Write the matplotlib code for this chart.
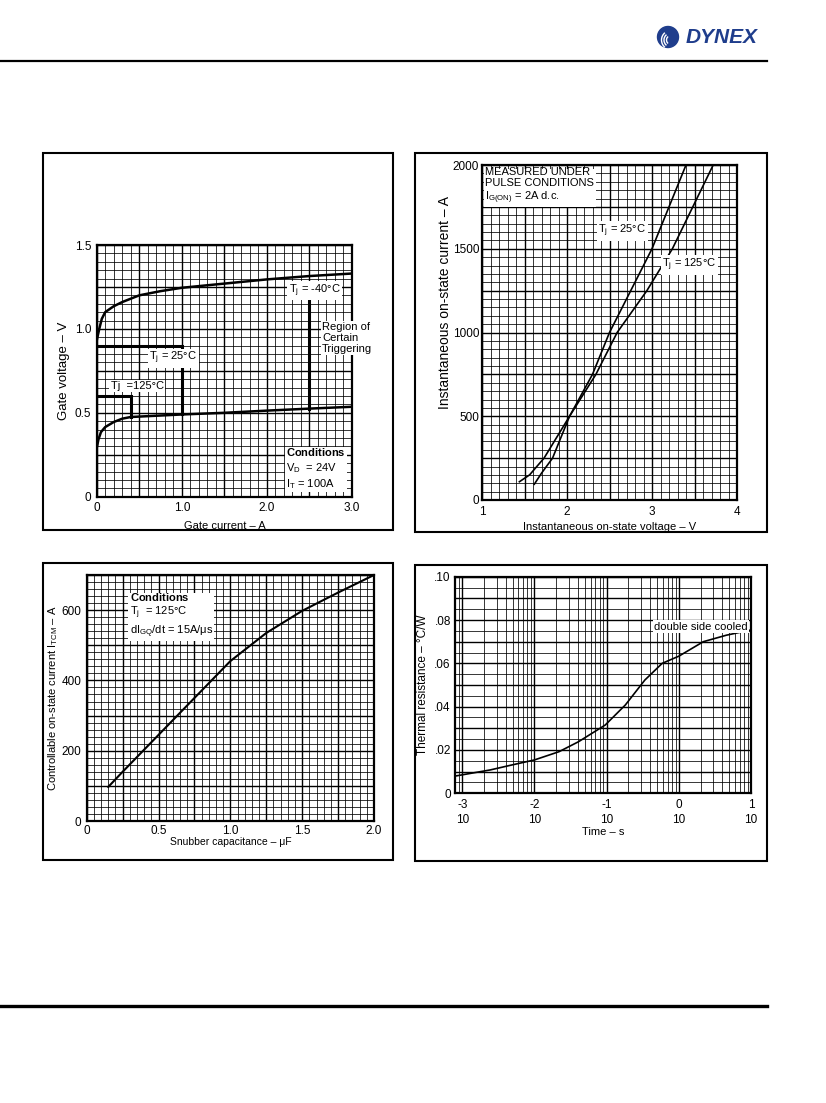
import numpy as np
import matplotlib
matplotlib.use("Agg")
import matplotlib.pyplot as plt
from matplotlib.ticker import MultipleLocator, LogLocator, NullFormatter, FixedLocator
from matplotlib.patches import Rectangle, Circle, Arc

plt.rcParams['font.family'] = ['Liberation Sans', 'DejaVu Sans']
plt.rcParams['mathtext.fontset'] = 'custom'
plt.rcParams['mathtext.rm'] = 'Liberation Sans'
plt.rcParams['mathtext.it'] = 'Liberation Sans:italic'
plt.rcParams['mathtext.bf'] = 'Liberation Sans:bold'

# ---------------- data ----------------
# Gate characteristics
gate_ig_upper = [0.0, 0.03, 0.06, 0.1, 0.2, 0.3, 0.5, 0.75, 1.0, 1.5, 2.0, 2.5, 3.0]
gate_vg_upper = [0.93, 1.0, 1.06, 1.10, 1.135, 1.16, 1.20, 1.225, 1.245, 1.27, 1.295, 1.315, 1.33]
gate_ig_lower = [0.0, 0.02, 0.05, 0.1, 0.2, 0.3, 0.4, 0.6, 1.0, 1.5, 2.0, 2.5, 3.0]
gate_vg_lower = [0.29, 0.34, 0.385, 0.415, 0.445, 0.465, 0.475, 0.48, 0.49, 0.50, 0.513, 0.525, 0.536]
# region boundaries (corner points)
region_25_x = [0.0, 1.0, 1.0]
region_25_y = [0.9, 0.9, 0.49]
region_125_x = [0.0, 0.4, 0.4]
region_125_y = [0.6, 0.6, 0.475]
region_m40_x = [2.4, 2.5, 2.5]
region_m40_y = [1.2, 1.2, 0.52]

# On-state characteristics
vt_25 = [1.615, 1.7, 1.83, 2.03, 2.30, 2.50, 2.75, 3.0, 3.2, 3.40]
it_25 = [94, 160, 250, 500, 750, 1000, 1250, 1500, 1750, 2000]
vt_125 = [1.44, 1.56, 1.73, 2.03, 2.34, 2.59, 2.94, 3.24, 3.48, 3.72]
it_125 = [109, 150, 250, 500, 750, 1000, 1250, 1500, 1750, 2000]

# Controllable on-state current vs snubber capacitance
snub_c = [0.15, 0.25, 0.5, 0.75, 1.0, 1.25, 1.5, 1.75, 2.0]
snub_i = [97, 140, 245, 350, 455, 535, 598, 650, 700]

# Transient thermal impedance
th_logt = [-3.09, -2.61, -2.31, -2.0, -1.66, -1.39, -1.02, -0.74, -0.47, -0.23, 0.0, 0.34, 0.66, 1.0]
th_z = [0.008, 0.0108, 0.0131, 0.0154, 0.0192, 0.0238, 0.0315, 0.0408, 0.0523, 0.060, 0.0633, 0.070, 0.073, 0.0754]

# ---------------- figure ----------------
W, H = 826, 1103
fig = plt.figure(figsize=(W / 100, H / 100), dpi=100)

def rect(l, r, t, b):
    return [l / W, 1 - b / H, (r - l) / W, (b - t) / H]

FS = 8.0
TFS = 8.5
WB = dict(facecolor='white', edgecolor='none', pad=1.0)

def style(ax):
    ax.tick_params(which='both', length=0, labelsize=TFS, pad=4)
    for s in ax.spines.values():
        s.set_linewidth(1.6)
        s.set_color('black')
    ax.grid(which='major', color='black', lw=1.0)
    ax.grid(which='minor', color='black', lw=0.55)
    ax.set_axisbelow(True)

# overlay for frames, header, footer
ov = fig.add_axes([0, 0, 1, 1])
ov.set_xlim(0, W)
ov.set_ylim(H, 0)
ov.axis('off')
for (l, t, r, b) in [(42.7, 152.7, 392.7, 530), (414.7, 152.7, 767, 532),
                     (42.7, 562.7, 392.7, 860), (414.7, 565, 767, 861)]:
    ov.add_patch(Rectangle((l, t), r - l, b - t, fill=False, lw=1.5, ec='black'))
ov.plot([0, 767], [60.7, 60.7], color='black', lw=1.6)
ov.plot([0, 767], [1006, 1006], color='black', lw=2.4)
navy = '#1f3d8c'
ov.add_patch(Circle((668, 37), 10.5, color=navy))
for rr in (4.5, 7.0, 9.5):
    ov.add_patch(Arc((671, 40), 2 * rr, 2 * rr, theta1=130, theta2=230, color='white', lw=1.0))
ov.text(722, 37.5, 'DYNEX', color=navy, fontsize=15, fontweight='heavy',
        fontstyle='italic', ha='center', va='center')

# ---- 1. Gate characteristics ----
ax1 = fig.add_axes(rect(96.7, 352, 245, 496.7))
ax1.set_xlim(0, 3.0)
ax1.set_ylim(0, 1.5)
ax1.xaxis.set_minor_locator(MultipleLocator(0.1))
ax1.yaxis.set_minor_locator(MultipleLocator(0.05))
style(ax1)
ax1.set_xticks(np.arange(0, 3.01, 0.5))
ax1.set_xticklabels(['0', '', '1.0', '', '2.0', '', '3.0'])
ax1.set_yticks(np.arange(0, 1.51, 0.25))
ax1.set_yticklabels(['0', '', '0.5', '', '1.0', '', '1.5'])
ax1.plot(gate_ig_upper, gate_vg_upper, color='black', lw=1.8)
ax1.plot(gate_ig_lower, gate_vg_lower, color='black', lw=1.8)
ax1.plot(region_25_x, region_25_y, color='black', lw=2.2, solid_joinstyle='miter')
ax1.plot(region_125_x, region_125_y, color='black', lw=2.2, solid_joinstyle='miter')
ax1.plot(region_m40_x, region_m40_y, color='black', lw=2.2, solid_joinstyle='miter')
ax1.text(2.56, 1.23, 'T$_\\mathrm{j}$ = -40°C', fontsize=FS, ha='center', va='center', bbox=WB)
ax1.text(2.65, 1.04, 'Region of\nCertain\nTriggering', fontsize=FS, ha='left', va='top',
         bbox=WB, clip_on=False, linespacing=1.1)
ax1.text(0.9, 0.825, 'T$_\\mathrm{j}$ = 25°C', fontsize=FS, ha='center', va='center', bbox=WB)
ax1.text(0.475, 0.66, 'Tj  =125°C', fontsize=FS, ha='center', va='center', bbox=WB)
ax1.text(2.23, 0.30, '$\\mathbf{Conditions}$\nV$_\\mathrm{D}$  = 24V\nI$_\\mathrm{T}$ = 100A', fontsize=FS,
         ha='left', va='top', bbox=WB, linespacing=1.25)
ax1.set_xlabel('Gate current – A', fontsize=FS, labelpad=5)
ax1.set_ylabel('Gate voltage – V', fontsize=9.5)
ax1.yaxis.set_label_coords(-0.105, 0.5)

# ---- 2. On-state characteristics ----
ax2 = fig.add_axes(rect(482, 737, 165, 500))
ax2.set_xlim(1, 4)
ax2.set_ylim(0, 2000)
ax2.xaxis.set_minor_locator(MultipleLocator(0.1))
ax2.yaxis.set_minor_locator(MultipleLocator(50))
style(ax2)
ax2.set_xticks(np.arange(1, 4.01, 0.5))
ax2.set_xticklabels(['1', '', '2', '', '3', '', '4'])
ax2.set_yticks(np.arange(0, 2001, 250))
ax2.set_yticklabels(['0', '', '500', '', '1000', '', '1500', '', '2000'])
ax2.tick_params(axis='y', pad=2)
ax2.plot(vt_25, it_25, color='black', lw=1.2)
ax2.plot(vt_125, it_125, color='black', lw=1.2)
ax2.text(1.04, 1990, 'MEASURED UNDER\nPULSE CONDITIONS\nI$_\\mathrm{G(ON)}$ = 2A d.c.', fontsize=FS,
         ha='left', va='top', bbox=WB, linespacing=1.15)
ax2.text(2.65, 1606, 'T$_\\mathrm{j}$ = 25°C', fontsize=FS, ha='center', va='center', bbox=WB)
ax2.text(3.44, 1403, 'T$_\\mathrm{j}$ = 125°C', fontsize=FS, ha='center', va='center', bbox=WB)
ax2.set_xlabel('Instantaneous on-state voltage – V', fontsize=FS, labelpad=3)
ax2.set_ylabel('Instantaneous on-state current – A', fontsize=10)
ax2.yaxis.set_label_coords(-0.118, 0.59)

# ---- 3. Controllable on-state current ----
ax3 = fig.add_axes(rect(86.7, 374, 575, 821))
ax3.set_xlim(0, 2.0)
ax3.set_ylim(0, 700)
ax3.xaxis.set_minor_locator(MultipleLocator(0.05))
ax3.yaxis.set_minor_locator(MultipleLocator(20))
style(ax3)
ax3.set_xticks(np.arange(0, 2.01, 0.25))
ax3.set_xticklabels(['0', '', '0.5', '', '1.0', '', '1.5', '', '2.0'])
ax3.set_yticks(np.arange(0, 701, 100))
ax3.set_yticklabels(['0', '', '200', '', '400', '', '600', ''])
ax3.tick_params(axis='x', pad=3)
ax3.plot(snub_c, snub_i, color='black', lw=1.5)
ax3.text(0.30, 655, '$\\mathbf{Conditions}$\nT$_\\mathrm{j}$  = 125°C\ndI$_\\mathrm{GQ}$/dt = 15A/μs',
         fontsize=FS, ha='left', va='top', bbox=WB, linespacing=1.2)
ax3.set_xlabel('Snubber capacitance – μF', fontsize=7.5, labelpad=0)
ax3.set_ylabel('Controllable on-state current I$_\\mathrm{TCM}$ – A', fontsize=8.0)
ax3.yaxis.set_label_coords(-0.094, 0.5)

# ---- 4. Transient thermal impedance ----
ax4 = fig.add_axes(rect(455, 751, 576.7, 793.3))
ax4.set_xscale('log')
ax4.set_xlim(10 ** -3.1, 10 ** 1)
ax4.set_ylim(0, 0.10)
ax4.xaxis.set_major_locator(FixedLocator([1e-3, 1e-2, 1e-1, 1e0, 1e1]))
ax4.xaxis.set_minor_locator(LogLocator(base=10, subs=np.arange(2, 10)))
ax4.xaxis.set_minor_formatter(NullFormatter())
ax4.yaxis.set_minor_locator(MultipleLocator(0.005))
style(ax4)
ax4.set_xticks([1e-3, 1e-2, 1e-1, 1e0, 1e1])
ax4.set_xticklabels(['-3\n10', '-2\n10', '-1\n10', '0\n10', '1\n10'], linespacing=1.3)
ax4.set_yticks(np.arange(0, 0.1001, 0.01))
ax4.set_yticklabels(['0', '', '.02', '', '.04', '', '.06', '', '.08', '', '.10'])
ax4.tick_params(axis='y', pad=3)
ax4.plot(10 ** np.array(th_logt), th_z, color='black', lw=1.2)
ax4.text(2.02, 0.0769, 'double side cooled', fontsize=FS, ha='center', va='center', bbox=WB)
ax4.set_xlabel('Time – s', fontsize=FS, labelpad=1)
ax4.set_ylabel('Thermal resistance – °C/W', fontsize=8.5)
ax4.yaxis.set_label_coords(-0.0895, 0.5)

fig.savefig('out.png', dpi=100)
